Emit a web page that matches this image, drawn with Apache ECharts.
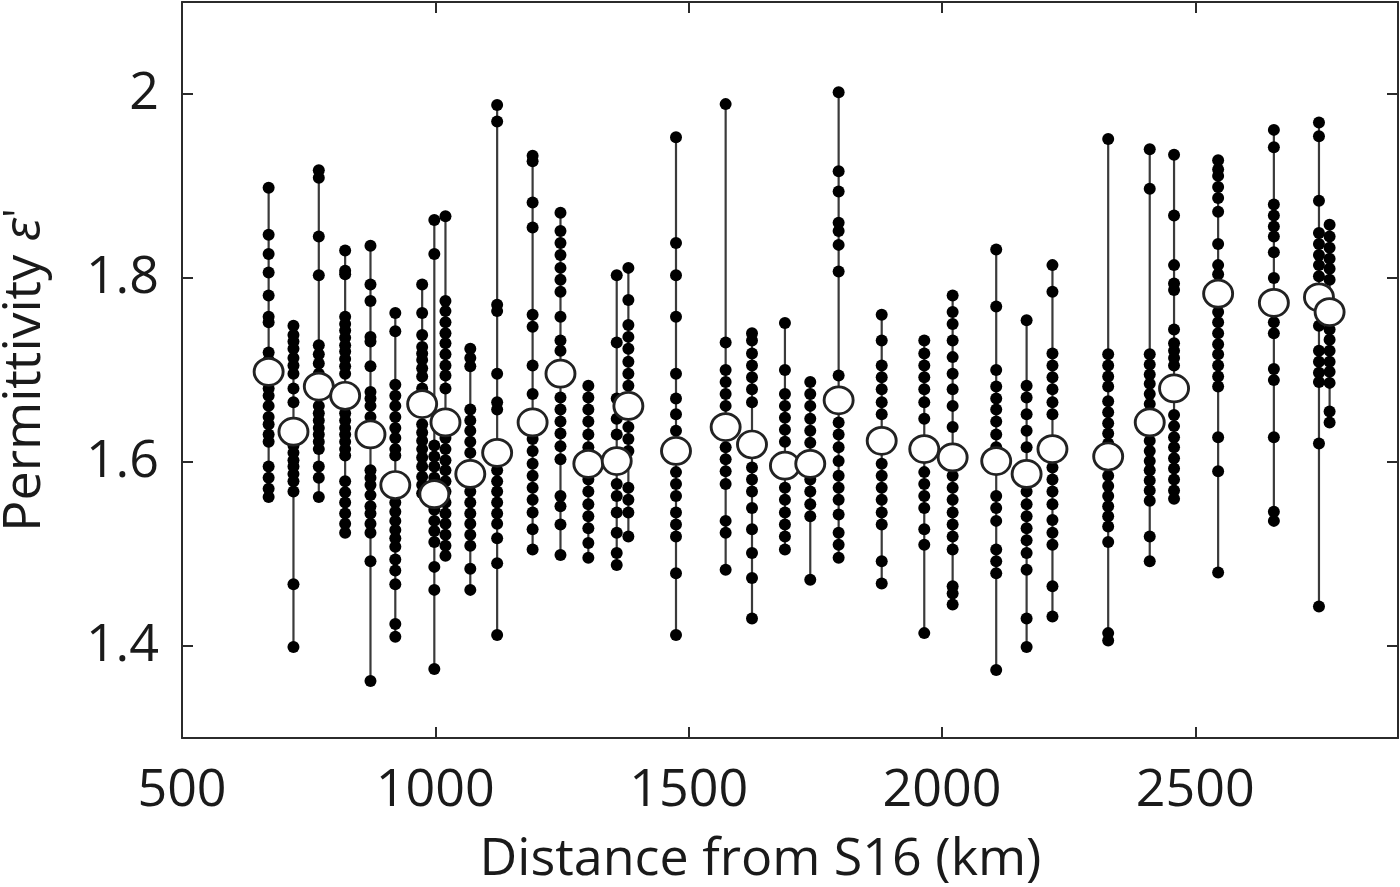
<!DOCTYPE html>
<html>
<head>
<meta charset="utf-8">
<script src="https://cdn.jsdelivr.net/npm/echarts@6/dist/echarts.min.js"></script>
<style>
  html, body { margin: 0; padding: 0; background: #fff; }
  #main { width: 1400px; height: 887px; }
</style>
</head>
<body>
<div id="main"></div>
<script>
// distance of each site along the traverse (km)
var distances = [671, 720, 770, 822, 872, 921, 974, 998, 1020, 1069, 1122, 1192, 1247, 1302, 1358, 1381,
  1475, 1573, 1625, 1690, 1740, 1796, 1881, 1965, 2021, 2107, 2167, 2218, 2328, 2410, 2458, 2545, 2655, 2744, 2765];

// mean permittivity per site (white circles)
var means = [1.698, 1.633, 1.682, 1.672, 1.630, 1.575, 1.663, 1.565, 1.643, 1.587, 1.610, 1.643, 1.696, 1.598,
  1.601, 1.661, 1.612, 1.638, 1.619, 1.596, 1.598, 1.667, 1.623, 1.614, 1.605, 1.601, 1.587, 1.614, 1.606,
  1.643, 1.680, 1.783, 1.773, 1.779, 1.763];

// individual estimates per site (black dots)
var samples = [
  [1.898, 1.847, 1.826, 1.806, 1.781, 1.758, 1.752, 1.719, 1.711, 1.680, 1.672, 1.661, 1.649, 1.641, 1.630, 1.622, 1.595, 1.583, 1.571, 1.562],
  [1.748, 1.738, 1.731, 1.723, 1.713, 1.705, 1.696, 1.680, 1.665, 1.618, 1.610, 1.602, 1.595, 1.587, 1.579, 1.568, 1.467, 1.399],
  [1.917, 1.909, 1.845, 1.803, 1.727, 1.717, 1.707, 1.696, 1.661, 1.653, 1.645, 1.637, 1.630, 1.622, 1.614, 1.595, 1.583, 1.562],
  [1.830, 1.808, 1.804, 1.758, 1.750, 1.743, 1.735, 1.727, 1.720, 1.712, 1.704, 1.696, 1.653, 1.645, 1.637, 1.630, 1.622, 1.614, 1.607, 1.579, 1.567, 1.556, 1.544, 1.533, 1.523],
  [1.835, 1.793, 1.775, 1.736, 1.731, 1.704, 1.676, 1.669, 1.661, 1.649, 1.591, 1.583, 1.575, 1.564, 1.552, 1.544, 1.533, 1.523, 1.492, 1.362],
  [1.762, 1.742, 1.684, 1.672, 1.661, 1.649, 1.637, 1.626, 1.614, 1.607, 1.556, 1.546, 1.536, 1.526, 1.517, 1.508, 1.494, 1.482, 1.467, 1.424, 1.410],
  [1.793, 1.762, 1.738, 1.725, 1.718, 1.711, 1.702, 1.693, 1.680, 1.641, 1.632, 1.623, 1.614, 1.605, 1.595, 1.584, 1.575, 1.566],
  [1.863, 1.826, 1.618, 1.606, 1.595, 1.583, 1.548, 1.536, 1.525, 1.513, 1.486, 1.461, 1.375],
  [1.867, 1.775, 1.764, 1.752, 1.740, 1.729, 1.717, 1.705, 1.694, 1.680, 1.626, 1.614, 1.602, 1.591, 1.579, 1.568, 1.556, 1.544, 1.533, 1.521, 1.509, 1.498],
  [1.723, 1.713, 1.704, 1.657, 1.645, 1.634, 1.622, 1.610, 1.568, 1.556, 1.544, 1.533, 1.521, 1.509, 1.484, 1.461],
  [1.988, 1.970, 1.771, 1.764, 1.696, 1.665, 1.657, 1.591, 1.579, 1.568, 1.556, 1.544, 1.533, 1.517, 1.490, 1.412],
  [1.933, 1.927, 1.882, 1.855, 1.760, 1.747, 1.705, 1.674, 1.625, 1.612, 1.598, 1.585, 1.572, 1.559, 1.545, 1.527, 1.505],
  [1.871, 1.851, 1.838, 1.825, 1.811, 1.798, 1.785, 1.758, 1.732, 1.721, 1.670, 1.657, 1.644, 1.631, 1.617, 1.603, 1.563, 1.552, 1.532, 1.499],
  [1.683, 1.670, 1.657, 1.644, 1.630, 1.616, 1.581, 1.568, 1.554, 1.541, 1.528, 1.512, 1.496],
  [1.803, 1.730, 1.669, 1.647, 1.630, 1.576, 1.563, 1.545, 1.523, 1.501, 1.488],
  [1.811, 1.776, 1.749, 1.736, 1.723, 1.709, 1.696, 1.683, 1.638, 1.625, 1.612, 1.572, 1.559, 1.545, 1.519],
  [1.953, 1.838, 1.803, 1.758, 1.696, 1.669, 1.652, 1.634, 1.589, 1.576, 1.563, 1.545, 1.532, 1.519, 1.479, 1.412],
  [1.989, 1.730, 1.700, 1.687, 1.674, 1.661, 1.616, 1.603, 1.590, 1.576, 1.536, 1.523, 1.483],
  [1.740, 1.732, 1.718, 1.705, 1.692, 1.679, 1.665, 1.594, 1.581, 1.568, 1.550, 1.527, 1.501, 1.474, 1.430],
  [1.751, 1.700, 1.674, 1.661, 1.648, 1.635, 1.622, 1.572, 1.559, 1.545, 1.532, 1.519, 1.505],
  [1.687, 1.674, 1.661, 1.647, 1.634, 1.621, 1.581, 1.568, 1.554, 1.541, 1.472],
  [2.002, 1.916, 1.894, 1.860, 1.851, 1.836, 1.807, 1.694, 1.643, 1.630, 1.616, 1.601, 1.585, 1.572, 1.559, 1.543, 1.523, 1.510, 1.496],
  [1.760, 1.732, 1.705, 1.692, 1.679, 1.665, 1.652, 1.598, 1.585, 1.572, 1.559, 1.545, 1.532, 1.492, 1.468],
  [1.732, 1.718, 1.705, 1.692, 1.679, 1.665, 1.647, 1.589, 1.576, 1.563, 1.550, 1.527, 1.510, 1.414],
  [1.781, 1.763, 1.750, 1.732, 1.714, 1.696, 1.679, 1.661, 1.638, 1.585, 1.572, 1.559, 1.545, 1.532, 1.519, 1.505, 1.465, 1.457, 1.445],
  [1.831, 1.769, 1.700, 1.682, 1.669, 1.657, 1.644, 1.630, 1.616, 1.563, 1.550, 1.536, 1.505, 1.492, 1.479, 1.374],
  [1.754, 1.683, 1.670, 1.652, 1.634, 1.616, 1.568, 1.554, 1.541, 1.528, 1.515, 1.501, 1.483, 1.430, 1.399],
  [1.814, 1.785, 1.718, 1.705, 1.692, 1.679, 1.665, 1.652, 1.594, 1.581, 1.568, 1.554, 1.537, 1.523, 1.510, 1.465, 1.432],
  [1.951, 1.717, 1.705, 1.693, 1.682, 1.666, 1.654, 1.642, 1.631, 1.620, 1.585, 1.574, 1.563, 1.552, 1.541, 1.530, 1.513, 1.414, 1.406],
  [1.940, 1.897, 1.717, 1.706, 1.695, 1.685, 1.674, 1.663, 1.623, 1.612, 1.601, 1.591, 1.580, 1.569, 1.558, 1.519, 1.492],
  [1.934, 1.868, 1.814, 1.794, 1.787, 1.744, 1.729, 1.721, 1.713, 1.705, 1.651, 1.639, 1.627, 1.616, 1.604, 1.593, 1.581, 1.569, 1.560],
  [1.928, 1.918, 1.911, 1.899, 1.887, 1.872, 1.837, 1.814, 1.804, 1.763, 1.752, 1.740, 1.728, 1.717, 1.705, 1.693, 1.682, 1.627, 1.590, 1.480],
  [1.961, 1.942, 1.880, 1.868, 1.856, 1.845, 1.828, 1.800, 1.752, 1.740, 1.701, 1.689, 1.627, 1.546, 1.536],
  [1.969, 1.954, 1.884, 1.849, 1.837, 1.825, 1.814, 1.802, 1.748, 1.721, 1.709, 1.697, 1.687, 1.620, 1.443],
  [1.858, 1.845, 1.833, 1.821, 1.810, 1.798, 1.744, 1.733, 1.721, 1.709, 1.698, 1.686, 1.655, 1.643]
];

var xTicks = [500, 1000, 1500, 2000, 2500];
var yTicks = [1.4, 1.6, 1.8, 2];

var myChart = echarts.init(document.getElementById('main'));

var rangeData = distances.map(function (d, i) {
  return [d, Math.min.apply(null, samples[i]), Math.max.apply(null, samples[i])];
});
var dotData = [];
distances.forEach(function (d, i) {
  samples[i].forEach(function (v) { dotData.push([d, v]); });
});
var meanData = distances.map(function (d, i) { return [d, means[i]]; });

var fontFamily = '"Open Sans", "Noto Sans", sans-serif';
var textColor = '#1a1a1a';
var axisColor = '#2b2b2b';

function frameAxis(pos, ticks, extra) {
  var ax = {
    type: 'value',
    position: pos,
    axisLine: { show: true, onZero: false, lineStyle: { color: axisColor, width: 2 } },
    axisTick: { show: true, inside: true, length: 11, customValues: ticks, lineStyle: { color: axisColor, width: 2 } },
    axisLabel: { show: false },
    splitLine: { show: false }
  };
  return Object.assign(ax, extra);
}

var option = {
  animation: false,
  backgroundColor: '#fff',
  grid: { left: 182, right: 2, top: 2, bottom: 149, outerBoundsMode: 'none', containLabel: false },
  xAxis: [
    frameAxis('bottom', xTicks, {
      min: 500, max: 2900,
      axisLabel: {
        show: true, customValues: xTicks, margin: 27,
        fontFamily: fontFamily, fontSize: 52, color: textColor,
        formatter: function (v) { return String(v); }
      },
      name: 'Distance from S16 (km)',
      nameLocation: 'middle',
      nameGap: 96,
      nameTextStyle: { fontFamily: fontFamily, fontSize: 52, color: textColor, padding: [0, 59, 0, 0] }
    }),
    frameAxis('top', xTicks, { min: 500, max: 2900 })
  ],
  yAxis: [
    frameAxis('left', yTicks, {
      min: 1.3, max: 2.1,
      axisLabel: {
        show: true, customValues: yTicks, margin: 23,
        fontFamily: fontFamily, fontSize: 52, color: textColor
      },
      name: "{a|Permittivity }{e|ε}{p|'}",
      nameLocation: 'middle',
      nameGap: 131,
      nameRotate: 90,
      nameTextStyle: {
        fontFamily: fontFamily, fontSize: 52, color: textColor,
        rich: {
          a: { fontFamily: fontFamily, fontSize: 52, color: textColor },
          e: { fontFamily: fontFamily, fontSize: 52, color: textColor, fontStyle: 'italic' },
          p: { fontFamily: fontFamily, fontSize: 44, color: textColor, verticalAlign: 'top' }
        }
      }
    }),
    frameAxis('right', yTicks, { min: 1.3, max: 2.1 })
  ],
  series: [
    {
      type: 'custom',
      data: rangeData,
      renderItem: function (params, api) {
        var lo = api.coord([api.value(0), api.value(1)]);
        var hi = api.coord([api.value(0), api.value(2)]);
        return {
          type: 'line',
          shape: { x1: lo[0], y1: lo[1], x2: hi[0], y2: hi[1] },
          style: { stroke: '#3a3a3a', lineWidth: 2.2 }
        };
      },
      silent: true,
      z: 1
    },
    {
      type: 'scatter',
      data: dotData,
      symbol: 'circle',
      symbolSize: 12,
      itemStyle: { color: '#000', opacity: 1 },
      silent: true,
      z: 2
    },
    {
      type: 'scatter',
      data: meanData,
      symbol: 'circle',
      symbolSize: [29, 27],
      itemStyle: { color: '#fff', borderColor: '#222', borderWidth: 2.8, opacity: 1 },
      silent: true,
      z: 3
    }
  ]
};

myChart.setOption(option);
</script>
</body>
</html>
